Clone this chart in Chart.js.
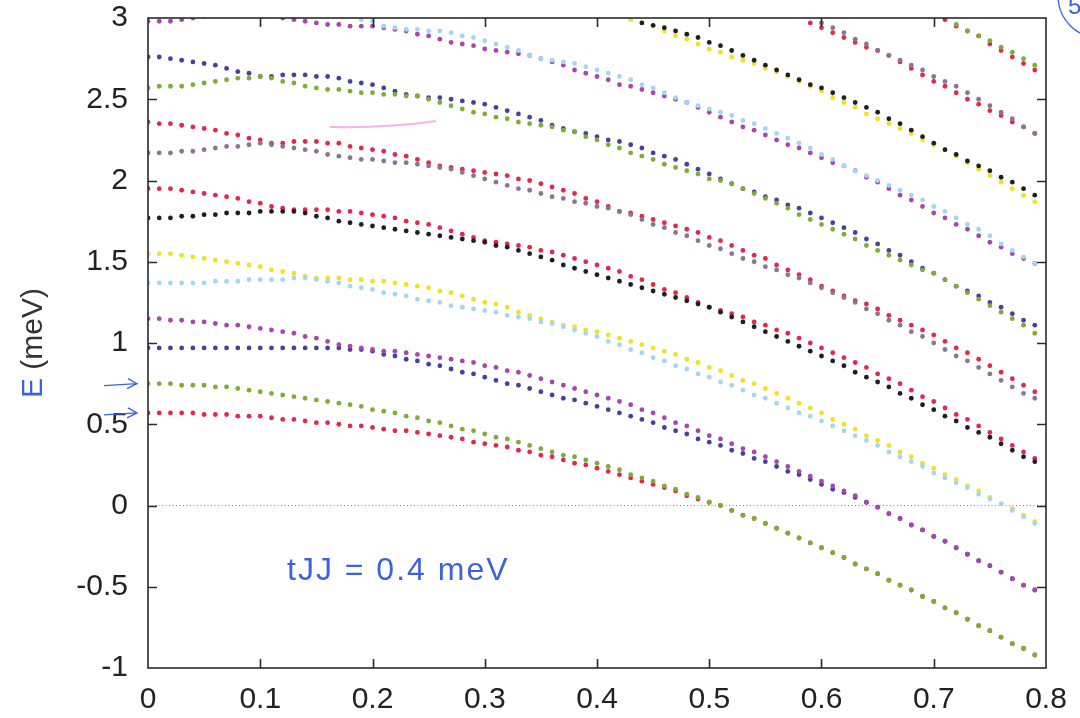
<!DOCTYPE html>
<html>
<head>
<meta charset="utf-8">
<script src="https://cdn.jsdelivr.net/npm/chart.js@4.4.1/dist/chart.umd.min.js"></script>
<style>
  html, body { margin: 0; padding: 0; background: #fff; }
  #plot { display: block; }
</style>
</head>
<body>
<canvas id="plot" width="1080" height="718"></canvas>
<script>
// k values (dots every 0.01)
const xs = [
  0.00, 0.01, 0.02, 0.03, 0.04, 0.05, 0.06, 0.07, 0.08, 0.09,
  0.10, 0.11, 0.12, 0.13, 0.14, 0.15, 0.16, 0.17, 0.18, 0.19,
  0.20, 0.21, 0.22, 0.23, 0.24, 0.25, 0.26, 0.27, 0.28, 0.29,
  0.30, 0.31, 0.32, 0.33, 0.34, 0.35, 0.36, 0.37, 0.38, 0.39,
  0.40, 0.41, 0.42, 0.43, 0.44, 0.45, 0.46, 0.47, 0.48, 0.49,
  0.50, 0.51, 0.52, 0.53, 0.54, 0.55, 0.56, 0.57, 0.58, 0.59,
  0.60, 0.61, 0.62, 0.63, 0.64, 0.65, 0.66, 0.67, 0.68, 0.69,
  0.70, 0.71, 0.72, 0.73, 0.74, 0.75, 0.76, 0.77, 0.78, 0.79
];

const xTicks = [0, 0.1, 0.2, 0.3, 0.4, 0.5, 0.6, 0.7, 0.8];
const xTickLabels = ['0', '0.1', '0.2', '0.3', '0.4', '0.5', '0.6', '0.7', '0.8'];
const yTicks = [-1, -0.5, 0, 0.5, 1, 1.5, 2, 2.5, 3];
const yTickLabels = ['-1', '-0.5', '0', '0.5', '1', '1.5', '2', '2.5', '3'];

// reference line E = 0
const zeroX = [0, 0.8];
const zeroY = [0, 0];

// levels, bottom to top (null = off the plot)
const red1 = [
  0.57, 0.57, 0.57, 0.57, 0.57, 0.56, 0.56, 0.56, 0.55, 0.55,
  0.55, 0.54, 0.53, 0.53, 0.52, 0.51, 0.51, 0.50, 0.49, 0.49,
  0.48, 0.47, 0.46, 0.46, 0.45, 0.44, 0.43, 0.42, 0.41, 0.39,
  0.38, 0.37, 0.36, 0.34, 0.33, 0.31, 0.30, 0.28, 0.26, 0.25,
  0.23, 0.21, 0.19, 0.17, 0.15, 0.13, 0.11, 0.09, 0.06, 0.04,
  0.02, 0.00, -0.03, -0.06, -0.08, -0.11, -0.14, -0.17, -0.20, -0.23,
  -0.26, -0.29, -0.32, -0.36, -0.39, -0.42, -0.46, -0.49, -0.52, -0.56,
  -0.59, -0.63, -0.66, -0.70, -0.74, -0.77, -0.81, -0.85, -0.88, -0.92
];
const green1 = [
  0.75, 0.75, 0.75, 0.74, 0.74, 0.74, 0.73, 0.73, 0.72, 0.71,
  0.70, 0.69, 0.68, 0.67, 0.66, 0.65, 0.64, 0.63, 0.62, 0.61,
  0.59, 0.58, 0.57, 0.55, 0.54, 0.52, 0.51, 0.49, 0.47, 0.46,
  0.44, 0.42, 0.41, 0.39, 0.37, 0.35, 0.33, 0.31, 0.30, 0.28,
  0.26, 0.24, 0.22, 0.19, 0.17, 0.15, 0.12, 0.10, 0.07, 0.05,
  0.02, 0.00, -0.03, -0.06, -0.08, -0.11, -0.14, -0.17, -0.20, -0.23,
  -0.26, -0.29, -0.32, -0.36, -0.39, -0.42, -0.46, -0.49, -0.52, -0.56,
  -0.59, -0.63, -0.66, -0.70, -0.74, -0.77, -0.81, -0.85, -0.88, -0.92
];
const blue1 = [
  0.97, 0.97, 0.97, 0.97, 0.97, 0.97, 0.97, 0.97, 0.97, 0.97,
  0.97, 0.97, 0.97, 0.97, 0.97, 0.97, 0.97, 0.97, 0.96, 0.96,
  0.95, 0.93, 0.92, 0.90, 0.89, 0.87, 0.86, 0.84, 0.82, 0.81,
  0.79, 0.77, 0.75, 0.74, 0.72, 0.70, 0.68, 0.66, 0.65, 0.63,
  0.61, 0.59, 0.57, 0.55, 0.53, 0.51, 0.48, 0.46, 0.44, 0.41,
  0.39, 0.37, 0.34, 0.32, 0.29, 0.27, 0.24, 0.21, 0.19, 0.16,
  0.13, 0.10, 0.08, 0.05, 0.02, -0.01, -0.05, -0.08, -0.12, -0.15,
  -0.19, -0.22, -0.26, -0.30, -0.34, -0.37, -0.41, -0.45, -0.49, -0.52
];
const magenta1 = [
  1.15, 1.15, 1.14, 1.14, 1.13, 1.13, 1.12, 1.11, 1.11, 1.10,
  1.09, 1.08, 1.07, 1.06, 1.04, 1.03, 1.01, 0.99, 0.98, 0.97,
  0.96, 0.95, 0.95, 0.94, 0.93, 0.92, 0.91, 0.90, 0.89, 0.88,
  0.86, 0.85, 0.83, 0.82, 0.80, 0.78, 0.76, 0.74, 0.72, 0.70,
  0.68, 0.66, 0.64, 0.62, 0.59, 0.57, 0.54, 0.51, 0.49, 0.46,
  0.43, 0.41, 0.38, 0.35, 0.33, 0.30, 0.27, 0.24, 0.21, 0.18,
  0.15, 0.12, 0.09, 0.06, 0.02, -0.01, -0.05, -0.08, -0.12, -0.15,
  -0.19, -0.22, -0.26, -0.30, -0.34, -0.37, -0.41, -0.45, -0.49, -0.52
];
const cyan1 = [
  1.37, 1.37, 1.37, 1.37, 1.37, 1.37, 1.38, 1.38, 1.38, 1.39,
  1.39, 1.39, 1.39, 1.40, 1.40, 1.39, 1.38, 1.37, 1.35, 1.34,
  1.33, 1.31, 1.30, 1.29, 1.27, 1.26, 1.25, 1.23, 1.22, 1.21,
  1.20, 1.19, 1.17, 1.16, 1.15, 1.13, 1.12, 1.10, 1.08, 1.06,
  1.04, 1.01, 0.99, 0.96, 0.94, 0.91, 0.89, 0.86, 0.84, 0.81,
  0.79, 0.76, 0.74, 0.71, 0.68, 0.66, 0.63, 0.60, 0.57, 0.55,
  0.52, 0.49, 0.46, 0.43, 0.40, 0.37, 0.33, 0.30, 0.27, 0.24,
  0.20, 0.17, 0.14, 0.11, 0.07, 0.04, 0.01, -0.03, -0.07, -0.11
];
const yellow1 = [
  1.55, 1.55, 1.55, 1.54, 1.53, 1.52, 1.51, 1.50, 1.49, 1.48,
  1.47, 1.45, 1.44, 1.43, 1.41, 1.40, 1.40, 1.40, 1.39, 1.39,
  1.38, 1.38, 1.37, 1.36, 1.35, 1.34, 1.32, 1.31, 1.29, 1.27,
  1.25, 1.24, 1.22, 1.19, 1.17, 1.15, 1.13, 1.11, 1.10, 1.08,
  1.07, 1.05, 1.03, 1.01, 0.99, 0.97, 0.95, 0.93, 0.90, 0.88,
  0.85, 0.83, 0.80, 0.77, 0.75, 0.72, 0.69, 0.66, 0.63, 0.60,
  0.57, 0.53, 0.50, 0.47, 0.43, 0.40, 0.37, 0.33, 0.30, 0.26,
  0.23, 0.19, 0.16, 0.12, 0.09, 0.05, 0.01, -0.02, -0.06, -0.10
];
const black1 = [
  1.77, 1.77, 1.77, 1.78, 1.78, 1.79, 1.79, 1.80, 1.80, 1.80,
  1.81, 1.81, 1.81, 1.81, 1.80, 1.78, 1.77, 1.75, 1.74, 1.73,
  1.72, 1.71, 1.70, 1.69, 1.68, 1.67, 1.66, 1.65, 1.64, 1.63,
  1.62, 1.60, 1.59, 1.57, 1.55, 1.53, 1.51, 1.48, 1.46, 1.44,
  1.42, 1.40, 1.38, 1.36, 1.34, 1.32, 1.30, 1.28, 1.26, 1.24,
  1.22, 1.19, 1.16, 1.13, 1.10, 1.07, 1.04, 1.01, 0.98, 0.95,
  0.92, 0.89, 0.86, 0.82, 0.79, 0.76, 0.73, 0.69, 0.66, 0.62,
  0.59, 0.55, 0.52, 0.48, 0.45, 0.42, 0.38, 0.34, 0.30, 0.27
];
const red2 = [
  1.95, 1.95, 1.95, 1.94, 1.93, 1.92, 1.91, 1.90, 1.89, 1.87,
  1.86, 1.84, 1.83, 1.82, 1.82, 1.82, 1.82, 1.81, 1.81, 1.80,
  1.79, 1.78, 1.77, 1.75, 1.74, 1.73, 1.71, 1.69, 1.67, 1.65,
  1.63, 1.62, 1.61, 1.60, 1.59, 1.57, 1.56, 1.54, 1.52, 1.50,
  1.48, 1.46, 1.44, 1.41, 1.39, 1.36, 1.33, 1.31, 1.28, 1.25,
  1.22, 1.20, 1.18, 1.16, 1.13, 1.11, 1.08, 1.06, 1.03, 1.00,
  0.97, 0.94, 0.91, 0.88, 0.85, 0.81, 0.78, 0.75, 0.71, 0.67,
  0.64, 0.60, 0.56, 0.53, 0.49, 0.45, 0.41, 0.37, 0.33, 0.29
];
const gray1 = [
  2.17, 2.17, 2.17, 2.18, 2.18, 2.19, 2.20, 2.21, 2.21, 2.22,
  2.23, 2.22, 2.21, 2.20, 2.19, 2.18, 2.16, 2.15, 2.14, 2.13,
  2.13, 2.12, 2.11, 2.11, 2.10, 2.09, 2.08, 2.07, 2.05, 2.03,
  2.01, 1.99, 1.97, 1.95, 1.94, 1.92, 1.90, 1.89, 1.87, 1.86,
  1.84, 1.83, 1.81, 1.79, 1.76, 1.73, 1.71, 1.68, 1.66, 1.63,
  1.60, 1.58, 1.55, 1.52, 1.50, 1.47, 1.45, 1.42, 1.40, 1.37,
  1.34, 1.31, 1.28, 1.25, 1.21, 1.18, 1.14, 1.11, 1.07, 1.04,
  1.00, 0.96, 0.92, 0.89, 0.85, 0.81, 0.77, 0.73, 0.69, 0.66
];
const red3 = [
  2.36, 2.35, 2.35, 2.34, 2.33, 2.32, 2.31, 2.29, 2.28, 2.26,
  2.25, 2.23, 2.23, 2.24, 2.24, 2.24, 2.23, 2.23, 2.21, 2.20,
  2.19, 2.18, 2.16, 2.15, 2.13, 2.11, 2.09, 2.08, 2.07, 2.06,
  2.05, 2.04, 2.03, 2.01, 2.00, 1.98, 1.96, 1.94, 1.92, 1.89,
  1.87, 1.84, 1.81, 1.80, 1.78, 1.76, 1.74, 1.72, 1.70, 1.68,
  1.65, 1.63, 1.60, 1.57, 1.54, 1.52, 1.48, 1.45, 1.42, 1.39,
  1.35, 1.32, 1.29, 1.26, 1.24, 1.21, 1.17, 1.14, 1.11, 1.08,
  1.05, 1.01, 0.97, 0.94, 0.90, 0.86, 0.82, 0.78, 0.74, 0.70
];
const green2 = [
  2.57, 2.58, 2.58, 2.58, 2.59, 2.60, 2.61, 2.62, 2.63, 2.63,
  2.64, 2.63, 2.61, 2.60, 2.58, 2.57, 2.56, 2.56, 2.55, 2.54,
  2.54, 2.53, 2.53, 2.52, 2.52, 2.50, 2.48, 2.46, 2.44, 2.42,
  2.41, 2.39, 2.38, 2.36, 2.35, 2.34, 2.33, 2.31, 2.30, 2.27,
  2.25, 2.22, 2.20, 2.17, 2.15, 2.13, 2.10, 2.08, 2.06, 2.04,
  2.01, 2.00, 1.98, 1.95, 1.92, 1.89, 1.86, 1.83, 1.79, 1.76,
  1.73, 1.70, 1.67, 1.64, 1.60, 1.57, 1.54, 1.51, 1.48, 1.45,
  1.43, 1.39, 1.35, 1.31, 1.27, 1.23, 1.19, 1.15, 1.11, 1.06
];
const blue2 = [
  2.76, 2.76, 2.75, 2.74, 2.73, 2.72, 2.71, 2.69, 2.67, 2.66,
  2.64, 2.64, 2.65, 2.65, 2.65, 2.64, 2.64, 2.63, 2.61, 2.60,
  2.59, 2.57, 2.55, 2.53, 2.52, 2.51, 2.51, 2.50, 2.49, 2.48,
  2.47, 2.45, 2.43, 2.41, 2.39, 2.37, 2.34, 2.32, 2.30, 2.29,
  2.27, 2.25, 2.24, 2.22, 2.20, 2.17, 2.15, 2.13, 2.10, 2.07,
  2.04, 2.01, 1.98, 1.95, 1.93, 1.90, 1.88, 1.85, 1.83, 1.80,
  1.77, 1.74, 1.71, 1.68, 1.64, 1.61, 1.57, 1.54, 1.50, 1.46,
  1.43, 1.39, 1.35, 1.32, 1.29, 1.25, 1.22, 1.18, 1.14, 1.11
];
const magenta2 = [
  2.98, 2.98, 2.98, 2.99, 3.00, 3.01, null, null, null, null,
  null, null, 3.00, 2.99, 2.98, 2.97, 2.96, 2.96, 2.95, 2.95,
  2.95, 2.94, 2.93, 2.92, 2.90, 2.89, 2.87, 2.85, 2.84, 2.83,
  2.81, 2.80, 2.79, 2.78, 2.77, 2.75, 2.73, 2.71, 2.68, 2.66,
  2.64, 2.62, 2.59, 2.58, 2.56, 2.54, 2.52, 2.50, 2.48, 2.45,
  2.42, 2.39, 2.36, 2.33, 2.31, 2.28, 2.25, 2.22, 2.20, 2.17,
  2.14, 2.11, 2.09, 2.06, 2.02, 1.99, 1.95, 1.91, 1.88, 1.84,
  1.80, 1.77, 1.73, 1.70, 1.66, 1.62, 1.59, 1.55, 1.52, 1.49
];
const cyan2 = [
  null, null, null, null, null, null, null, null, null, null,
  null, null, null, null, null, null, null, null, null, 2.99,
  2.98, 2.95, 2.94, 2.93, 2.93, 2.92, 2.92, 2.91, 2.89, 2.88,
  2.86, 2.84, 2.82, 2.80, 2.77, 2.75, 2.74, 2.73, 2.72, 2.70,
  2.68, 2.66, 2.64, 2.62, 2.59, 2.57, 2.54, 2.51, 2.48, 2.46,
  2.44, 2.42, 2.40, 2.37, 2.35, 2.32, 2.29, 2.26, 2.23, 2.20,
  2.16, 2.13, 2.09, 2.06, 2.03, 2.00, 1.97, 1.94, 1.91, 1.88,
  1.84, 1.81, 1.77, 1.73, 1.70, 1.66, 1.61, 1.57, 1.53, 1.49
];
const yellow2 = [
  ...Array(43).fill(null),
  2.99, 2.97, 2.95, 2.92, 2.89, 2.87, 2.84,
  2.81, 2.79, 2.76, 2.74, 2.72, 2.69, 2.67, 2.64, 2.61, 2.58,
  2.55, 2.51, 2.48, 2.45, 2.41, 2.38, 2.35, 2.32, 2.29, 2.25,
  2.22, 2.19, 2.15, 2.11, 2.07, 2.03, 1.99, 1.95, 1.91, 1.87
];
const black2 = [
  ...Array(44).fill(null),
  2.97, 2.955, 2.94, 2.92, 2.90, 2.88,
  2.85, 2.83, 2.80, 2.77, 2.74, 2.71, 2.68, 2.65, 2.62, 2.59,
  2.57, 2.54, 2.51, 2.48, 2.45, 2.42, 2.38, 2.35, 2.31, 2.27,
  2.23, 2.19, 2.16, 2.12, 2.09, 2.06, 2.02, 1.99, 1.95, 1.91
];
const red4 = [
  ...Array(59).fill(null),
  2.97,
  2.94, 2.91, 2.88, 2.85, 2.82, 2.80, 2.77, 2.73, 2.69, 2.65,
  2.61, 2.58, 2.54, 2.50, 2.47, 2.43, 2.40, 2.36, 2.33, 2.29
];
const gray2 = [
  ...Array(60).fill(null),
  2.97, 2.94, 2.91, 2.87, 2.84, 2.80, 2.77, 2.74, 2.71, 2.68,
  2.64, 2.61, 2.58, 2.54, 2.50, 2.46, 2.42, 2.38, 2.33, 2.29
];
const red5 = [
  ...Array(71).fill(null),
  2.99, 2.95, 2.92, 2.89, 2.84, 2.80, 2.76, 2.72, 2.68
];
const green3 = [
  ...Array(72).fill(null),
  2.96, 2.92, 2.89, 2.86, 2.82, 2.79, 2.75, 2.71
];

const RED = '#e2284b';
const GREEN = '#7eac36';
const BLUE = '#4a3f9e';
const MAGENTA = '#a945ad';
const CYAN = '#a3d6f3';
const YELLOW = '#f1e21c';
const BLACK = '#1f1f1f';
const GRAY = '#8b7592';
const INK = '#3c64d8';
const FONT = '"Liberation Sans", Arial, Helvetica, sans-serif';

// lower order = drawn on top
const series = [
  { name: 'red1', values: red1, color: RED, order: 8 },
  { name: 'red2', values: red2, color: RED, order: 8 },
  { name: 'red3', values: red3, color: RED, order: 8 },
  { name: 'red4', values: red4, color: RED, order: 8 },
  { name: 'red5', values: red5, color: RED, order: 8 },
  { name: 'blue1', values: blue1, color: BLUE, order: 7 },
  { name: 'blue2', values: blue2, color: BLUE, order: 7 },
  { name: 'green1', values: green1, color: GREEN, order: 6 },
  { name: 'green2', values: green2, color: GREEN, order: 6 },
  { name: 'green3', values: green3, color: GREEN, order: 6 },
  { name: 'magenta1', values: magenta1, color: MAGENTA, order: 5 },
  { name: 'magenta2', values: magenta2, color: MAGENTA, order: 5 },
  { name: 'yellow1', values: yellow1, color: YELLOW, order: 4 },
  { name: 'yellow2', values: yellow2, color: YELLOW, order: 4 },
  { name: 'cyan1', values: cyan1, color: CYAN, order: 3 },
  { name: 'cyan2', values: cyan2, color: CYAN, order: 3 },
  { name: 'black1', values: black1, color: BLACK, order: 2 },
  { name: 'black2', values: black2, color: BLACK, order: 2 },
  { name: 'gray1', values: gray1, color: GRAY, order: 1 },
  { name: 'gray2', values: gray2, color: GRAY, order: 1 }
];

function points(values) {
  return xs.map((x, i) => ({ x, y: values[i] })).filter(p => p.y !== null);
}

const datasets = series.map(s => ({
  label: s.name,
  data: points(s.values),
  showLine: false,
  pointRadius: 2.4,
  pointBorderWidth: 0,
  pointBackgroundColor: s.color,
  pointHoverRadius: 2.4,
  order: s.order,
  clip: 0
}));

datasets.push({
  label: 'zero',
  data: zeroX.map((x, i) => ({ x, y: zeroY[i] })),
  showLine: true,
  borderColor: '#8f7e9e',
  borderWidth: 1,
  borderDash: [1, 2.5],
  pointRadius: 0,
  order: 20,
  clip: 0
});

// frame with inward ticks, axis title and the pen marks
const paperMarks = {
  id: 'paperMarks',
  afterDatasetsDraw(chart) {
    const { ctx, chartArea: a, scales: { x, y } } = chart;
    ctx.save();
    ctx.strokeStyle = '#2a2a2a';
    ctx.lineWidth = 1.6;
    ctx.strokeRect(a.left, a.top, a.right - a.left, a.bottom - a.top);
    const len = 9;
    ctx.beginPath();
    xTicks.slice(1, -1).forEach(v => {
      const px = Math.round(x.getPixelForValue(v)) + 0.5;
      ctx.moveTo(px, a.bottom); ctx.lineTo(px, a.bottom - len);
      ctx.moveTo(px, a.top); ctx.lineTo(px, a.top + len);
    });
    yTicks.slice(1, -1).forEach(v => {
      const py = Math.round(y.getPixelForValue(v)) + 0.5;
      ctx.moveTo(a.left, py); ctx.lineTo(a.left + len, py);
      ctx.moveTo(a.right, py); ctx.lineTo(a.right - len, py);
    });
    ctx.stroke();
    ctx.restore();
  },
  afterDraw(chart) {
    const { ctx, scales: { y } } = chart;
    ctx.save();

    // y axis title, the E traced over in blue ink
    ctx.translate(34, 343);
    ctx.rotate(-Math.PI / 2);
    ctx.font = '30px ' + FONT;
    ctx.textBaseline = 'middle';
    const full = ctx.measureText('E (meV)').width;
    const eW = ctx.measureText('E').width;
    ctx.fillStyle = INK;
    ctx.fillText('E', -full / 2, 0);
    ctx.fillStyle = '#333';
    ctx.fillText(' (meV)', -full / 2 + eW, 0);
    ctx.setTransform(1, 0, 0, 1, 0, 0);

    // pen arrows at the two lowest levels
    ctx.strokeStyle = INK;
    ctx.lineWidth = 1.3;
    [green1[0], red1[0]].forEach(v => {
      const py = y.getPixelForValue(v);
      ctx.beginPath();
      ctx.moveTo(104, py + 2);
      ctx.lineTo(137, py);
      ctx.moveTo(128, py - 5);
      ctx.lineTo(137, py);
      ctx.lineTo(127, py + 5);
      ctx.stroke();
    });

    // pen note
    ctx.fillStyle = INK;
    ctx.font = '32px ' + FONT;
    ctx.letterSpacing = '2px';
    ctx.textBaseline = 'alphabetic';
    ctx.fillText('tJJ = 0.4 meV', 287, 580);
    ctx.letterSpacing = '0px';

    // circled page mark, cut by the edge
    ctx.beginPath();
    ctx.arc(1100, -4, 42, Math.PI * 0.5, Math.PI * 1.05);
    ctx.stroke();
    ctx.font = '24px ' + FONT;
    ctx.fillText('5', 1068, 14);

    // faint pink smear
    ctx.strokeStyle = 'rgba(230, 90, 200, 0.45)';
    ctx.lineWidth = 2;
    ctx.beginPath();
    ctx.moveTo(330, 127);
    ctx.quadraticCurveTo(390, 128, 436, 121);
    ctx.stroke();
    ctx.restore();
  }
};

new Chart(document.getElementById('plot'), {
  type: 'scatter',
  data: { datasets },
  options: {
    responsive: false,
    animation: false,
    devicePixelRatio: 1,
    layout: { padding: { top: 18, right: 34, left: 0, bottom: 0 } },
    plugins: { legend: { display: false }, tooltip: { enabled: false } },
    scales: {
      x: {
        type: 'linear',
        min: 0,
        max: 0.8,
        grid: { display: false, drawTicks: false },
        border: { display: false },
        afterBuildTicks: s => { s.ticks = xTicks.map(v => ({ value: v })); },
        afterFit: s => { s.height = 50; s.paddingLeft = 0; s.paddingRight = 0; },
        ticks: {
          autoSkip: false,
          maxRotation: 0,
          padding: 17,
          color: '#222',
          font: { family: FONT, size: 30, lineHeight: 1 },
          callback: (v, i) => xTickLabels[i]
        }
      },
      y: {
        type: 'linear',
        min: -1,
        max: 3,
        grid: { display: false, drawTicks: false },
        border: { display: false },
        afterBuildTicks: s => { s.ticks = yTicks.map(v => ({ value: v })); },
        afterFit: s => { s.width = 148; s.paddingTop = 0; s.paddingBottom = 0; },
        ticks: {
          autoSkip: false,
          padding: 20,
          color: '#222',
          font: { family: FONT, size: 30, lineHeight: 1 },
          callback: (v, i) => yTickLabels[i]
        }
      }
    }
  },
  plugins: [paperMarks]
});
</script>
</body>
</html>
